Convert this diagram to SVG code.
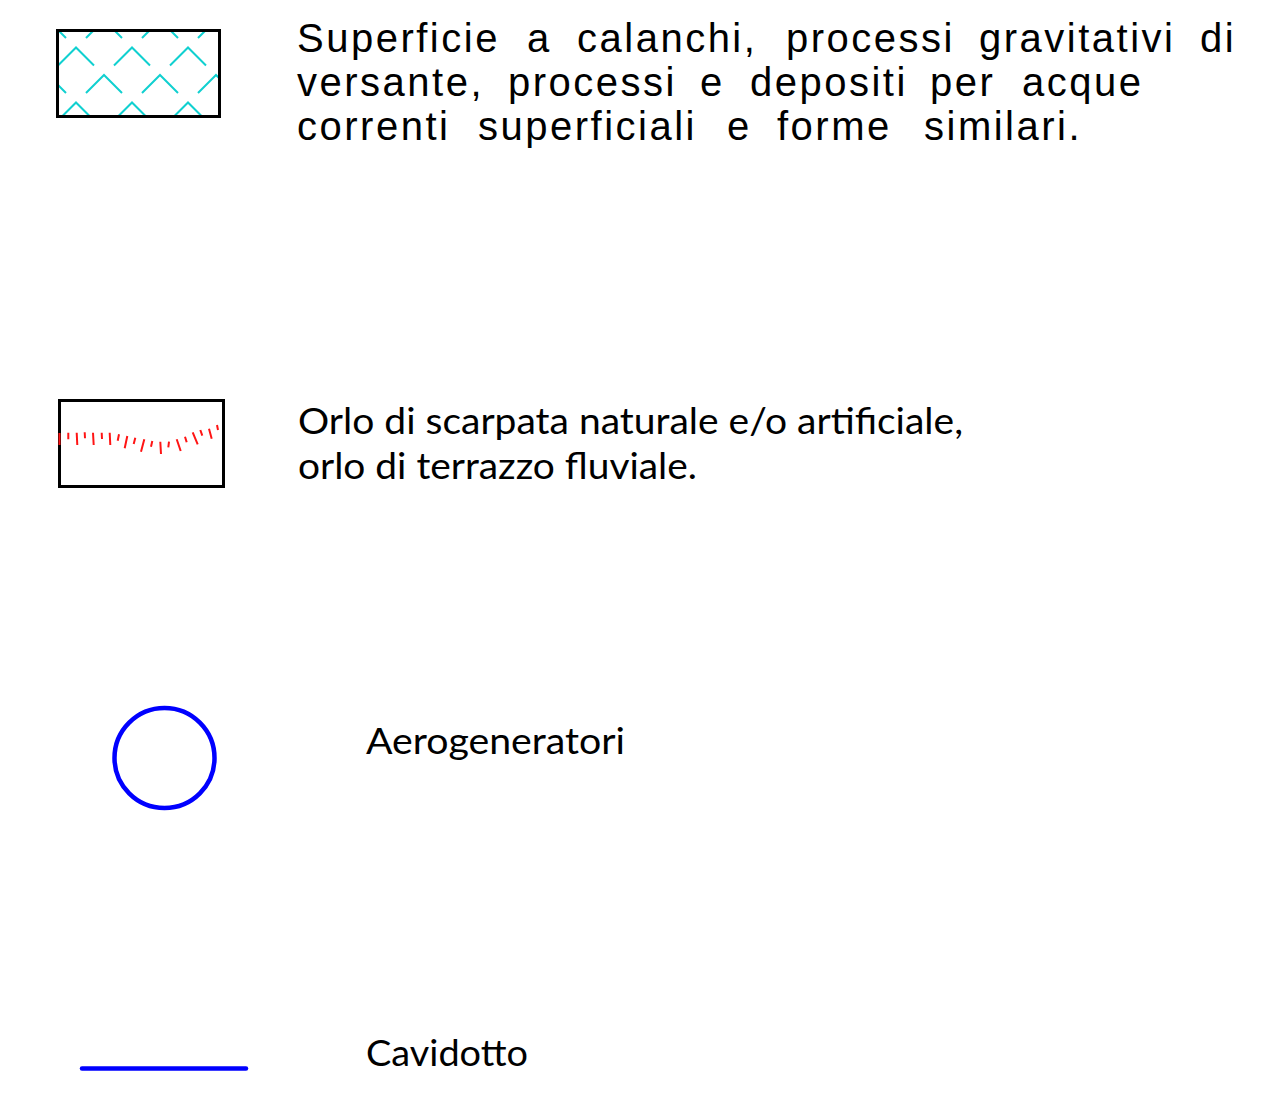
<svg xmlns="http://www.w3.org/2000/svg" width="1278" height="1111" viewBox="0 0 1278 1111">
  <style>
    .frame { fill: none; stroke: #000; stroke-width: 3; }
    .cad { font-family: "Liberation Sans", "DejaVu Sans", sans-serif; font-size: 40px; letter-spacing: 2.5px; fill: #000; }
    .lbl { font-family: Lato, "Open Sans", "Liberation Sans", sans-serif; font-size: 37px; fill: #000; }
    .tick { fill: none; stroke: #ff1414; stroke-width: 2; stroke-linecap: butt; }
    .blue { fill: none; stroke: #0000ff; stroke-width: 4.5; }
  </style>
  <defs>
    <pattern id="calanchi" patternUnits="userSpaceOnUse" x="20" y="18" width="56" height="55">
      <path d="M10,20 L28,2 L46,20 M-18,47.5 L0,29.5 L18,47.5 M38,47.5 L56,29.5 L74,47.5" fill="none" stroke="#10d0d0" stroke-width="2"/>
    </pattern>
  </defs>
  <rect width="1278" height="1111" fill="#fff"/>

  <g id="legend-calanchi">
    <rect x="57.5" y="30.5" width="162" height="86" fill="url(#calanchi)"/>
    <rect class="frame" x="57.5" y="30.5" width="162" height="86"/>
    <text class="cad" y="52">
      <tspan x="297">Superficie</tspan> <tspan x="527">a</tspan> <tspan x="577">calanchi,</tspan> <tspan x="786">processi</tspan> <tspan x="979">gravitativi</tspan> <tspan x="1200">di</tspan>
    </text>
    <text class="cad" y="96">
      <tspan x="297">versante,</tspan> <tspan x="508">processi</tspan> <tspan x="700">e</tspan> <tspan x="750">depositi</tspan> <tspan x="930">per</tspan> <tspan x="1022">acque</tspan>
    </text>
    <text class="cad" y="140">
      <tspan x="297">correnti</tspan> <tspan x="478">superficiali</tspan> <tspan x="727">e</tspan> <tspan x="777">forme</tspan> <tspan x="924">similari.</tspan>
    </text>
  </g>

  <g id="legend-orlo">
    <rect class="frame" x="59.5" y="400.5" width="164" height="86" fill="#fff"/>
    <path class="tick" d="M59.5,433 L59.5,445 M68.3,432.7 L68.3,439.3 M76.7,432.7 L77.3,445 M84.7,432.3 L85,438.3 M93,432.7 L93.7,445 M101.7,432.7 L102,439 M109.7,432.7 L110.3,445 M119,434.3 L117.7,440.7 M127.3,436 L124.7,448.3 M135.3,437.7 L133.7,444 M144.3,439.3 L141,451.7 M152.3,441 L151,446.7 M160.3,441.7 L161,454 M169,441.7 L168.3,447.3 M176.7,439.3 L180.7,451 M185,436.7 L186.7,442.3 M192.7,432.3 L197.7,444.3 M200.3,430 L202.3,435.7 M209,428.7 L211.7,438.7 M217,425 L218,430"/>
    <text class="lbl" x="298" y="434" textLength="665" lengthAdjust="spacingAndGlyphs">Orlo di scarpata naturale e/o artificiale,</text>
    <text class="lbl" x="298" y="479" textLength="399" lengthAdjust="spacingAndGlyphs">orlo di terrazzo fluviale.</text>
  </g>

  <g id="legend-aerogeneratori">
    <circle class="blue" cx="164.5" cy="758" r="50"/>
    <text class="lbl" x="366" y="754" textLength="259" lengthAdjust="spacingAndGlyphs">Aerogeneratori</text>
  </g>

  <g id="legend-cavidotto">
    <line class="blue" x1="82" y1="1068.5" x2="246" y2="1068.5" stroke-linecap="round"/>
    <text class="lbl" x="366" y="1066" textLength="162" lengthAdjust="spacingAndGlyphs">Cavidotto</text>
  </g>
</svg>
